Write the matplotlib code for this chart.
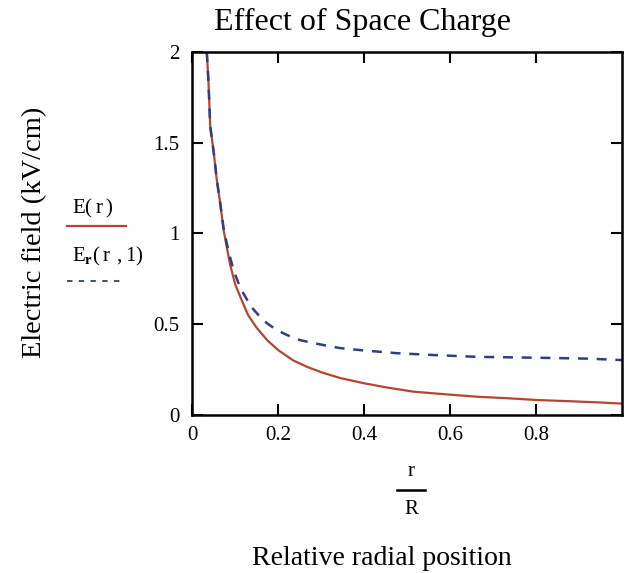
import numpy as np
import matplotlib
matplotlib.use("Agg")
import matplotlib.pyplot as plt
from matplotlib.lines import Line2D

plt.rcParams['font.family'] = ['Liberation Serif', 'DejaVu Serif']
plt.rcParams['mathtext.fontset'] = 'custom'
plt.rcParams['mathtext.rm'] = 'Liberation Serif'
plt.rcParams['mathtext.bf'] = 'Liberation Serif:bold'

# E(r): field without space charge
r_e = [0.034, 0.038, 0.042, 0.050, 0.057, 0.065, 0.073, 0.077, 0.088, 0.100, 0.112,
       0.130, 0.150, 0.175, 0.200, 0.235, 0.267, 0.300, 0.344, 0.400, 0.450, 0.514,
       0.580, 0.662, 0.730, 0.800, 0.880, 0.950, 1.000]
E_e = [2.000, 1.830, 1.590, 1.450, 1.300, 1.170, 1.020, 0.970, 0.830, 0.720, 0.650,
       0.550, 0.480, 0.410, 0.357, 0.300, 0.265, 0.235, 0.203, 0.174, 0.152, 0.128,
       0.115, 0.100, 0.092, 0.082, 0.075, 0.068, 0.062]

# Er(r, I): field with space charge
r_s = [0.034, 0.038, 0.042, 0.050, 0.057, 0.065, 0.073, 0.080, 0.088, 0.096, 0.107,
       0.119, 0.130, 0.143, 0.158, 0.174, 0.192, 0.212, 0.230, 0.251, 0.280, 0.305,
       0.344, 0.400, 0.476, 0.560, 0.660, 0.800, 0.920, 1.000]
E_s = [2.000, 1.830, 1.590, 1.450, 1.300, 1.170, 1.030, 0.950, 0.870, 0.800, 0.730,
       0.670, 0.625, 0.580, 0.540, 0.505, 0.475, 0.450, 0.430, 0.412, 0.397, 0.385,
       0.368, 0.355, 0.340, 0.330, 0.320, 0.315, 0.310, 0.302]

xticks = [0, 0.2, 0.4, 0.6, 0.8]
yticks = [0, 0.5, 1, 1.5, 2]

fig = plt.figure(figsize=(6.26, 5.73), dpi=100)
ax = fig.add_axes([0.307, 0.276, 0.687, 0.633])

red = '#b5452f'
blue = '#2f3f80'
ax.plot(r_e, E_e, color=red, lw=1.6)
ax.plot(r_s, E_s, color=blue, lw=1.8, dashes=(4, 3.5))

ax.set_xlim(0, 1)
ax.set_ylim(0, 2)
ax.set_xticks(xticks)
ax.set_xticklabels(['0', '0.2', '0.4', '0.6', '0.8'])
ax.set_yticks(yticks)
ax.set_yticklabels(['0', '0.5', '1', '1.5', '2'])
ax.tick_params(direction='in', length=8, width=1.5, top=True, right=True,
               labelsize=15, colors='black')
ax.tick_params(axis='x', pad=8)
ax.tick_params(axis='y', pad=9)
for s in ax.spines.values():
    s.set_linewidth(1.8)

fig.text(362 / 626, 1 - 30 / 573, 'Effect of Space Charge', ha='center', va='baseline',
         fontsize=23)
fig.text(35 / 626, 1 - 232 / 573, 'Electric field (kV/cm)', ha='center', va='center',
         rotation=90, fontsize=20.5)
fig.text(382 / 626, 1 - 565 / 573, 'Relative radial position', ha='center', va='baseline',
         fontsize=20)

# r / R fraction
fig.text(411 / 626, 1 - 472 / 573, 'r', ha='center', va='center', fontsize=15)
fig.add_artist(Line2D([397 / 626, 425 / 626], [1 - 490 / 573, 1 - 490 / 573],
                      color='black', lw=1.8))
fig.text(411 / 626, 1 - 509 / 573, 'R', ha='center', va='center', fontsize=15)

# legend drawn as in the original
fig.text(72 / 626, 1 - 208 / 573, r'$\mathrm{E}\mathrm{(\,r\,)}$', ha='left', va='center',
         fontsize=15)
fig.add_artist(Line2D([67 / 626, 126 / 626], [1 - 226 / 573, 1 - 226 / 573],
                      color=red, lw=1.6))
fig.text(72 / 626, 1 - 256 / 573, r'$\mathrm{E}_{\mathbf{r}}\mathrm{(\,r\ ,1)}$',
         ha='left', va='center', fontsize=15)
fig.add_artist(Line2D([67 / 626, 124 / 626], [1 - 281 / 573, 1 - 281 / 573],
                      color=blue, lw=1.3, dashes=(3, 3.5)))

fig.savefig('out.png', dpi=100)
